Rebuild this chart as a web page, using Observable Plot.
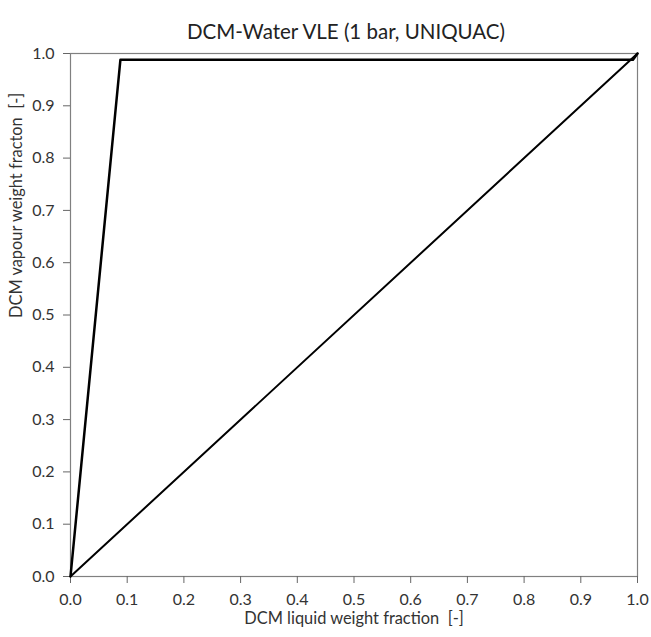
<!DOCTYPE html>
<html><head><meta charset="utf-8">
<script src="https://cdn.jsdelivr.net/npm/d3@7"></script>
<script src="https://cdn.jsdelivr.net/npm/@observablehq/plot@0.6"></script>
<style>body{margin:0;background:#fff;} svg{display:block}</style>
</head><body><div id="chart"></div>
<script>
const titleText = "DCM-Water VLE (1 bar, UNIQUAC)";
const xLabel = "DCM liquid weight fraction  [-]";
const yLabel = "DCM vapour weight fracton  [-]";
const ticks = [0,0.1,0.2,0.3,0.4,0.5,0.6,0.7,0.8,0.9,1.0];
const curveX = [0, 0.088, 0.992, 1.0];
const curveY = [0, 0.988, 0.988, 1.0];
const diagX = [0, 1];
const diagY = [0, 1];

const curve = curveX.map((x,i)=>({x, y: curveY[i]}));
const diag = diagX.map((x,i)=>({x, y: diagY[i]}));

const chart = Plot.plot({
  width: 651, height: 637,
  marginLeft: 70, marginRight: 14, marginTop: 53, marginBottom: 61,
  style: {fontFamily: "Lato, sans-serif", fontSize: "16px", color: "#333", background: "#fff"},
  x: {domain: [0,1]},
  y: {domain: [0,1]},
  marks: [
    Plot.frame({stroke: "#808080", strokeWidth: 1.2}),
    Plot.axisX({ticks, tickFormat: d3.format(".1f"), tickSize: 7, tickPadding: 10, stroke: "#666", fill: "#333", fontSize: 16, label: null}),
    Plot.axisY({ticks, tickFormat: d3.format(".1f"), tickSize: 7, tickPadding: 9, stroke: "#666", fill: "#333", fontSize: 16, label: null}),
    Plot.line(diag, {x: "x", y: "y", stroke: "#000", strokeWidth: 2}),
    Plot.line(curve, {x: "x", y: "y", stroke: "#000", strokeWidth: 2.5}),
    Plot.text([titleText], {frameAnchor: "top", dx: -8, dy: -29, text: d => d, fontSize: 20.5, fill: "#222"}),
    Plot.text([xLabel], {frameAnchor: "bottom", dy: 47, text: d => d, fontSize: 16.4, fill: "#333"}),
    Plot.text([yLabel], {frameAnchor: "left", dx: -54, dy: 3, rotate: -90, text: d => d, fontSize: 16.4, fill: "#333"})
  ]
});
document.getElementById("chart").append(chart);
</script>
</body></html>
